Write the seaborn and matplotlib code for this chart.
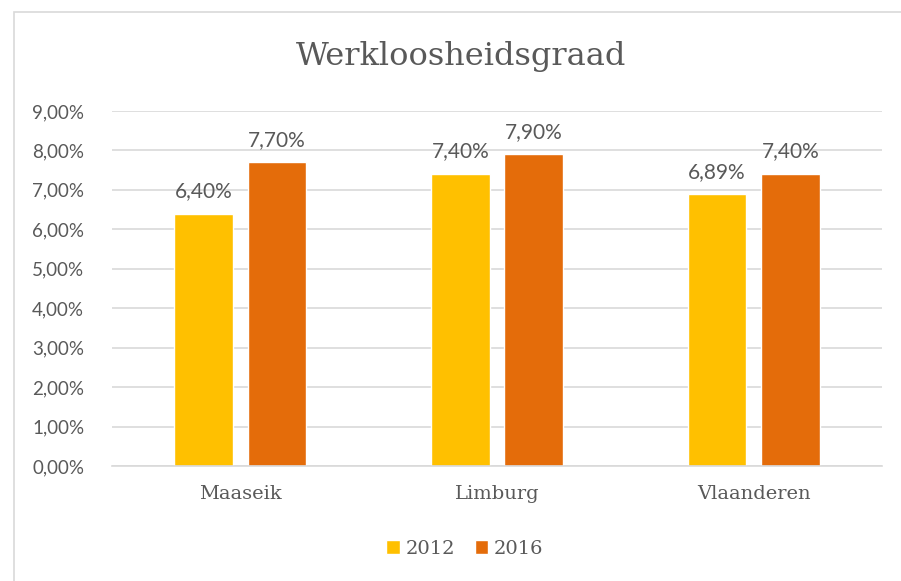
import matplotlib
matplotlib.use("Agg")
import matplotlib.pyplot as plt
import pandas as pd
import seaborn as sns
from matplotlib.patches import Rectangle

# %% Data
regions = ["Maaseik", "Limburg", "Vlaanderen"]
years = ["2012", "2016"]
rate_2012 = [6.40, 7.40, 6.89]
rate_2016 = [7.70, 7.90, 7.40]
colours = ["#FFC000", "#E46C0A"]

df = pd.DataFrame({
    "regio": regions * 2,
    "jaar": [years[0]] * 3 + [years[1]] * 3,
    "graad": rate_2012 + rate_2016,
})

GREY = "#595959"
SERIF = ["DejaVu Serif"]
SANS = ["Lato", "DejaVu Sans"]

# %% Plot
sns.set_style("white")
fig = plt.figure(figsize=(9.01, 5.81), dpi=100)
ax = fig.add_axes([0.1243, 0.198, 0.8547, 0.611])

sns.barplot(data=df, x="regio", y="graad", hue="jaar", palette=colours,
            width=0.57, gap=0.2, ax=ax, saturation=1, legend=True)

ax.set_ylim(0, 9)
ax.set_xlim(-0.5, 2.5)
ax.set_yticks(range(10))
ax.set_yticklabels([f"{v},00%" for v in range(10)], family=SANS, fontsize=13.5,
                   color=GREY)
ax.set_xticklabels(regions, family=SERIF, fontsize=14, color=GREY)
ax.tick_params(axis="both", length=0)
ax.tick_params(axis="x", pad=14)
ax.tick_params(axis="y", pad=20)
ax.grid(axis="y", color="#D9D9D9", linewidth=1.2)
ax.set_axisbelow(True)
for s in ["top", "right", "left"]:
    ax.spines[s].set_visible(False)
ax.spines["bottom"].set_color("#D9D9D9")
ax.spines["bottom"].set_linewidth(1.2)
ax.set_xlabel("")
ax.set_ylabel("")

for cont in ax.containers:
    labels = [f"{b.get_height():.2f}".replace(".", ",") + "%" for b in cont]
    ax.bar_label(cont, labels=labels, padding=9, family=SANS, fontsize=15,
                 color=GREY)

handles, labs = ax.get_legend_handles_labels()
ax.legend_.remove()
fig.legend(handles, labs, loc="center", bbox_to_anchor=(0.516, 0.055), ncol=2,
           frameon=False, prop={"family": SERIF, "size": 14}, labelcolor=GREY,
           handlelength=0.7, handleheight=0.7, handletextpad=0.3, columnspacing=1.0)

fig.text(0.512, 0.902, "Werkloosheidsgraad", ha="center", va="center",
         family=SERIF, fontsize=23, color=GREY)

fig.patches.append(Rectangle((14 / 901, -0.01), 0.99, 1 - 12 / 581 + 0.01,
                             transform=fig.transFigure, fill=False,
                             edgecolor="#D9D9D9", linewidth=1.2))

fig.savefig("out.png", dpi=100)
